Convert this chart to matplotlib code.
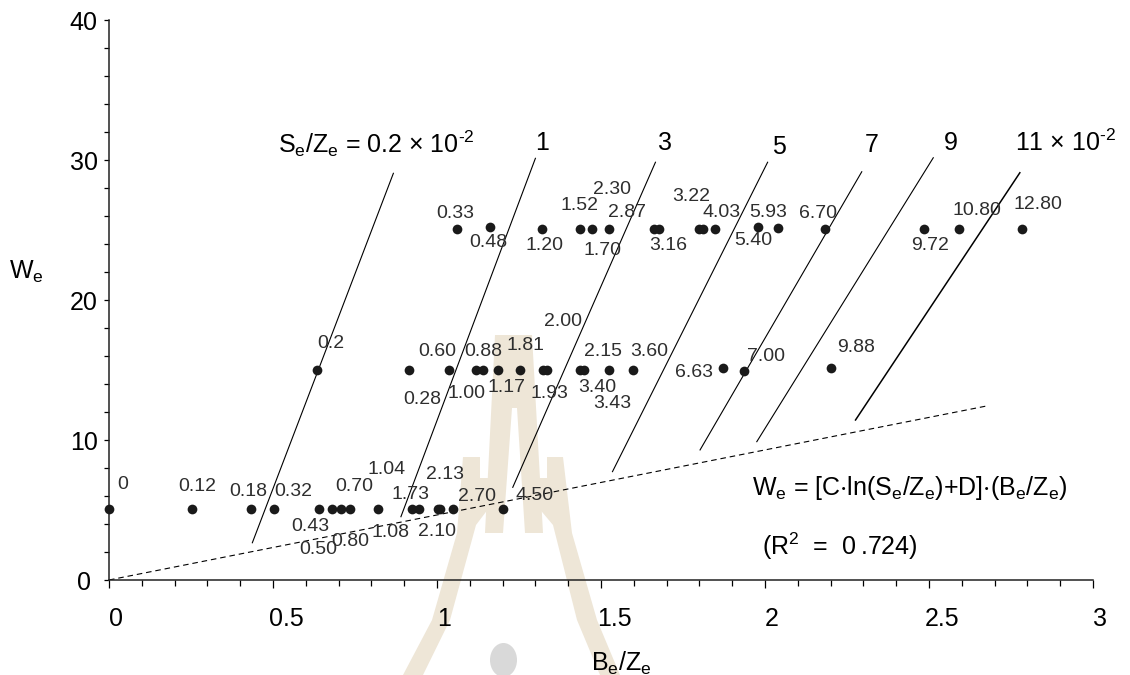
import matplotlib
matplotlib.use("Agg")
import matplotlib.pyplot as plt
from matplotlib.patches import Polygon, Ellipse
from matplotlib.transforms import ScaledTranslation
from matplotlib.ticker import MultipleLocator

plt.rcParams["font.family"] = ["Liberation Sans", "DejaVu Sans"]
plt.rcParams["mathtext.default"] = "regular"

# ---- data: test points (B_e/Z_e, W_e) and their S_e/Z_e (x10^-2) ----
be_ze_w5 = [0.0, 0.252, 0.432, 0.503, 0.641, 0.681, 0.707, 0.735, 0.820,
            0.923, 0.946, 1.004, 1.010, 1.048, 1.200]
we_w5 = [5.05] * 15
se_ze_w5 = ["0", "0.12", "0.18", "0.32", "0.43", "0.50", "0.80", "0.70", "1.04",
            "1.08", "1.73", "2.10", "2.13", "2.70", "4.50"]

be_ze_w15 = [0.633, 0.915, 1.037, 1.118, 1.141, 1.187, 1.253, 1.324, 1.336,
             1.436, 1.448, 1.525, 1.598, 1.871, 1.937, 2.200]
we_w15 = [15.0, 15.0, 15.0, 15.0, 15.0, 15.0, 15.0, 15.0, 15.0,
          15.0, 15.0, 15.0, 15.0, 15.12, 14.95, 15.12]
se_ze_w15 = ["0.2", "0.28", "0.60", "1.00", "0.88", "1.17", "1.81", "1.93", "2.00",
             "3.40", "2.15", "3.43", "3.60", "6.63", "7.00", "9.88"]

be_ze_w25 = [1.062, 1.162, 1.321, 1.436, 1.473, 1.525, 1.662, 1.678, 1.800,
             1.812, 1.848, 1.980, 2.041, 2.183, 2.486, 2.590, 2.784]
we_w25 = [25.1, 25.25, 25.05, 25.05, 25.05, 25.05, 25.05, 25.05, 25.05,
          25.05, 25.05, 25.25, 25.15, 25.1, 25.1, 25.05, 25.1]
se_ze_w25 = ["0.33", "0.48", "1.20", "1.52", "1.70", "2.30", "2.87", "3.16", "3.22",
             "", "4.03", "5.40", "5.93", "6.70", "9.72", "10.80", "12.80"]

# constant S_e/Z_e contours (x10^-2): end points in (B_e/Z_e, W_e)
contour_levels = ["0.2", "1", "3", "5", "7", "9", "11"]
contour_b_low = [0.437, 0.890, 1.231, 1.535, 1.802, 1.975, 2.276]
contour_w_low = [2.66, 4.52, 6.62, 7.74, 9.29, 9.88, 11.43]
contour_b_high = [0.867, 1.300, 1.666, 2.008, 2.295, 2.513, 2.777]
contour_w_high = [29.05, 30.12, 29.84, 29.84, 29.16, 30.16, 29.09]

# fitted relation drawn as a dashed reference line
fit_b = [0.0, 2.68]
fit_w = [0.0, 12.45]

x_ticks = [0, 0.5, 1, 1.5, 2, 2.5, 3]
x_tick_labels = ["0", "0.5", "1", "1.5", "2", "2.5", "3"]
y_ticks = [0, 10, 20, 30, 40]
y_tick_labels = ["0", "10", "20", "30", "40"]

# ---- label placement (pixel offsets from each point) ----
offs_w5 = [(14, 25), (6, 23), (-2, 18), (19, 18), (-9, -17), (-14, -40), (9, -32),
           (4, 23), (9, 40), (-21, -23), (-9, 15), (-1, -22), (5, 35), (24, 13), (32, 14)]
offs_w15 = [(14, 26), (13, -29), (-12, 19), (-9, -24), (0, 19), (8, -17), (6, 24),
            (6, -24), (16, 49), (17, -17), (19, 18), (3, -34), (16, 19), (-29, -4),
            (22, 14), (25, 21)]
offs_w25 = [(-2, 15), (-2, -16), (2, -16), (-1, 24), (10, -21), (3, 40), (-27, 17),
            (9, -16), (-8, 33), (0, 0), (6, 17), (-5, -14), (-10, 15), (-7, 15),
            (6, -17), (18, 19), (16, 24)]

W, H = 1130, 675
fig = plt.figure(figsize=(W / 100, H / 100), dpi=100)
ax = fig.add_axes([109 / W, (H - 580) / H, (1093 - 109) / W, (580 - 20) / H])
ax.patch.set_visible(False)

# faint background emblem
def px(points):
    return [(x / W, 1 - y / H) for x, y in points]

emblem = "#EEE6D7"
shapes = [
    [(495, 335), (532, 335), (543, 533), (525, 533), (517, 408), (512, 408), (503, 533), (485, 533)],
    [(463, 457), (480, 457), (480, 478), (497, 478), (495, 500), (476, 525),
     (450, 620), (423, 675), (403, 675), (432, 620), (457, 533)],
    [(547, 457), (563, 457), (572, 533), (597, 620), (620, 675), (600, 675),
     (577, 620), (553, 525), (532, 500), (530, 478), (547, 478)],
]
for s in shapes:
    ax.add_patch(Polygon(px(s), closed=True, facecolor=emblem, edgecolor="none",
                         transform=fig.transFigure, zorder=0, clip_on=False))
ax.add_patch(Ellipse((503.5 / W, 1 - 660 / H), 27 / W, 34 / H, facecolor="#D9D9D9",
                     edgecolor="none", transform=fig.transFigure, zorder=0, clip_on=False))

# contours
for i, lev in enumerate(contour_levels):
    lw = 1.1 if lev == "11" else 0.8
    ax.plot([contour_b_low[i], contour_b_high[i]], [contour_w_low[i], contour_w_high[i]],
            color="black", lw=lw, zorder=2)

ax.plot(fit_b, fit_w, color="black", lw=0.8, dashes=(5, 3.5), zorder=2)

label_kw = dict(textcoords="offset pixels", ha="center", va="center",
                fontsize=14, color="#2e2e2e", zorder=4)
for bs, ws, labs, offs in [(be_ze_w5, we_w5, se_ze_w5, offs_w5),
                           (be_ze_w15, we_w15, se_ze_w15, offs_w15),
                           (be_ze_w25, we_w25, se_ze_w25, offs_w25)]:
    ax.plot(bs, ws, "o", color="#1a1a1a", ms=7, mew=0, clip_on=False, zorder=3)
    for b, w, lab, off in zip(bs, ws, labs, offs):
        if lab:
            ax.annotate(lab, (b, w), xytext=off, **label_kw)

# contour captions
hdr = dict(fontsize=18, va="center", color="black")
ax.text(0.515, 31.2, "$S_e/Z_e$ = 0.2 \u00d7 10$^{\u20102}$", ha="left", **hdr)
ax.text(1.319, 31.2, "1", ha="center", **hdr)
ax.text(1.695, 31.2, "3", ha="center", **hdr)
ax.text(2.043, 30.95, "5", ha="center", **hdr)
ax.text(2.325, 31.07, "7", ha="center", **hdr)
ax.text(2.566, 31.2, "9", ha="center", **hdr)
ax.text(2.762, 31.2, "11 \u00d7 10$^{\u20102}$", ha="left", **hdr)

ax.text(1.960, 6.57, r"$W_e$ = [C$\cdot$ln($S_e/Z_e$)+D]$\cdot$($B_e/Z_e$)",
        ha="left", va="center", fontsize=18)
ax.text(1.990, 2.38, "(R$^2$  =  0\u2009.724)", ha="left", va="center", fontsize=18)

# axes
ax.set_xlim(0, 3)
ax.set_ylim(0, 40)
for side in ("top", "right"):
    ax.spines[side].set_visible(False)
for side in ("left", "bottom"):
    ax.spines[side].set_linewidth(1.1)
    ax.spines[side].set_color("#222222")

ax.set_xticks(x_ticks)
ax.set_xticklabels(x_tick_labels)
ax.set_yticks(y_ticks)
ax.set_yticklabels(y_tick_labels)
ax.xaxis.set_minor_locator(MultipleLocator(0.1))
ax.yaxis.set_minor_locator(MultipleLocator(2))
ax.tick_params(axis="x", which="major", length=6.1, width=0.9, pad=13.0, labelsize=18)
ax.tick_params(axis="x", which="minor", length=4.0, width=0.9)
ax.tick_params(axis="y", which="major", length=3.8, width=0.9, pad=14.4, labelsize=18)
ax.tick_params(axis="y", which="minor", length=3.4, width=0.9)
for t in ax.get_yticklabels():
    t.set_horizontalalignment("center")
for t in ax.get_xticklabels():
    shift = 7 if len(t.get_text()) == 1 else 13
    t.set_transform(t.get_transform() + ScaledTranslation(shift / 100, 0, fig.dpi_scale_trans))

fig.text(26 / W, 1 - 272 / H, r"$W_e$", ha="center", va="center", fontsize=18)
fig.text(621 / W, 1 - 663 / H, r"$B_e/Z_e$", ha="center", va="center", fontsize=18)

fig.savefig("out.png", dpi=100, facecolor="white")
